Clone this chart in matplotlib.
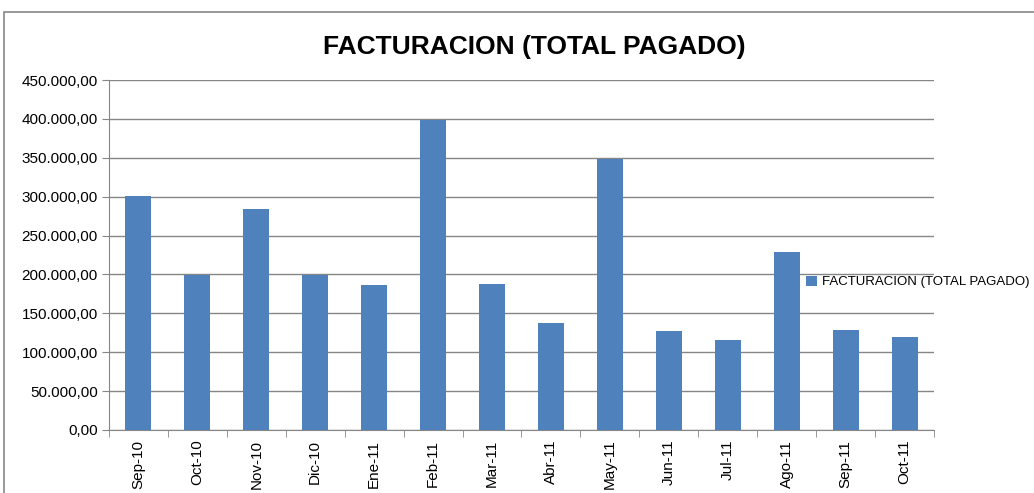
import matplotlib.pyplot as plt
from matplotlib.patches import Rectangle
from matplotlib import font_manager
from matplotlib.ticker import FuncFormatter, MultipleLocator, FixedLocator

months = ['Sep-10', 'Oct-10', 'Nov-10', 'Dic-10', 'Ene-11', 'Feb-11', 'Mar-11',
          'Abr-11', 'May-11', 'Jun-11', 'Jul-11', 'Ago-11', 'Sep-11', 'Oct-11']
pagado = [301000, 199000, 284000, 199000, 186000, 398500, 188000,
          137500, 348000, 127000, 116000, 229000, 128500, 120000]
series_name = 'FACTURACION (TOTAL PAGADO)'

names = {f.name for f in font_manager.fontManager.ttflist}
narrow = 'Liberation Sans Narrow' if 'Liberation Sans Narrow' in names else 'Liberation Sans'
plt.rcParams['font.family'] = ['Liberation Sans', 'DejaVu Sans']

fig = plt.figure(figsize=(10.34, 4.93), dpi=100)
ax = fig.add_axes([0.1054, 0.1278, 0.9033 - 0.1054, 0.8377 - 0.1278])

x = list(range(len(months)))
ax.bar(x, pagado, width=0.44, color='#4F81BD', zorder=3, label=series_name)

ax.set_xlim(-0.5, len(months) - 0.5)
ax.set_ylim(0, 450000)
ax.yaxis.set_major_locator(MultipleLocator(50000))
ax.yaxis.set_major_formatter(FuncFormatter(
    lambda v, p: '{:,.2f}'.format(v).replace(',', 'X').replace('.', ',').replace('X', '.')))
ax.grid(axis='y', color='#868686', linewidth=1, zorder=0)

ax.set_xticks(x)
ax.set_xticklabels(months, rotation=90, fontsize=11)
ax.tick_params(axis='x', length=0, pad=7)
ax.xaxis.set_minor_locator(FixedLocator([i - 0.5 for i in range(len(months) + 1)]))
ax.tick_params(axis='x', which='minor', length=5, color='#868686')
ax.tick_params(axis='y', labelsize=11, length=5, color='#868686', pad=3)

for s in ['top', 'right']:
    ax.spines[s].set_visible(False)
for s in ['left', 'bottom']:
    ax.spines[s].set_color('#868686')

fig.text(0.5164, 0.905, 'FACTURACION (TOTAL PAGADO)', ha='center', va='center',
         fontsize=19, fontweight='bold', family=narrow)

ax.legend(loc='center left', bbox_to_anchor=(806 / 1034, 1 - 282 / 493),
          bbox_transform=fig.transFigure, frameon=False, borderpad=0,
          borderaxespad=0, handlelength=0.8, handleheight=0.8,
          handletextpad=0.4, fontsize=9.5)

# outer chart border
fig.patches.append(Rectangle((4 / 1034, -0.1), 1.2, 1 - 12 / 493 + 0.1,
                             transform=fig.transFigure, fill=False,
                             edgecolor='#868686', linewidth=1.2))

fig.savefig('out.png', dpi=100)
